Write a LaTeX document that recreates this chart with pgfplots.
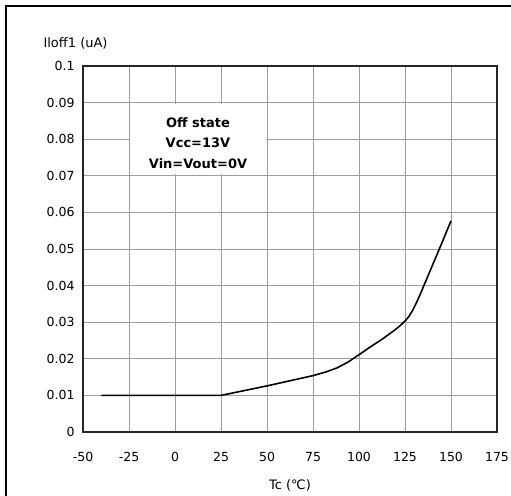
\documentclass[border=0pt]{standalone}
\usepackage{pgfplots}
\pgfplotsset{compat=1.18}
\usepackage{fontspec}
\setmainfont{DejaVu Sans}
\begin{document}
\begin{tikzpicture}[x=1bp,y=1bp]
\useasboundingbox (0,0) rectangle (511,496);
\begin{axis}[
  at={(83bp,64bp)}, anchor=south west,
  scale only axis, width=414bp, height=366bp,
  xmin=-50, xmax=175, ymin=0, ymax=0.1,
  xtick={-50,-25,...,175},
  ytick={0,0.01,...,0.1},
  yticklabels={0,0.01,0.02,0.03,0.04,0.05,0.06,0.07,0.08,0.09,0.1},
  /pgf/number format/assume math mode=true,
  grid=major,
  major grid style={draw=black!38, line width=0.9bp},
  axis line style={draw=black!85, line width=1.6bp},
  tick style={draw=none},
  ticklabel style={font=\fontsize{12.5bp}{14bp}\selectfont},
  xticklabel style={yshift=-17bp},
  yticklabel style={xshift=-5bp},
  label style={font=\fontsize{13bp}{15bp}\selectfont},
  xlabel={Tc (℃)},
  xlabel style={yshift=-11bp},
  clip=false,
]
\addplot[black, line width=1.6bp, line join=round] coordinates {
(-40,0.01) (25,0.01) (50,0.0126) (75,0.0154) (82,0.0164) (88,0.0175) (94,0.0191) (100,0.0211)
(106,0.0232) (112.7,0.0254) (119,0.0277) (122,0.0289) (125,0.0303) (127,0.0315) (129,0.0331)
(131,0.0351) (133,0.0373) (135,0.0397) (140.8,0.0466) (145,0.0516) (150,0.0577)
};
\fill[white] (axis cs:-24.6,0.0704) rectangle (axis cs:49.6,0.0896);
\node[font=\fontsize{13bp}{15bp}\selectfont\bfseries] at (axis cs:12.5,0.0845) {Off state};
\node[font=\fontsize{13bp}{15bp}\selectfont\bfseries] at (axis cs:12.5,0.0790) {Vcc=13V};
\node[font=\fontsize{13bp}{15bp}\selectfont\bfseries] at (axis cs:12.5,0.0734) {Vin=Vout=0V};
\end{axis}
\node[anchor=west, font=\fontsize{13bp}{15bp}\selectfont] at (40,453) {Iloff1 (uA)};
\draw[line width=2.4bp] (6,0) -- (6,490) -- (511,490);
\end{tikzpicture}
\end{document}
